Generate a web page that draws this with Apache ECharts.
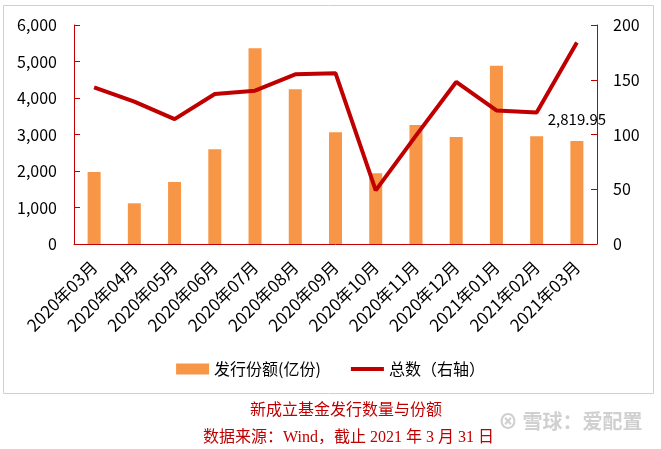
<!DOCTYPE html>
<html>
<head>
<meta charset="utf-8">
<script src="https://cdn.jsdelivr.net/npm/echarts@6/dist/echarts.min.js"></script>
<style>
  html, body { margin: 0; padding: 0; background: #fff; }
  #main { width: 661px; height: 449px; }
</style>
</head>
<body>
<div id="main"></div>
<script>
const months = ['2020年03月', '2020年04月', '2020年05月', '2020年06月', '2020年07月', '2020年08月',
  '2020年09月', '2020年10月', '2020年11月', '2020年12月', '2021年01月', '2021年02月', '2021年03月'];
// 发行份额(亿份)
const shares = [1970, 1115, 1700, 2595, 5360, 4240, 3060, 1935, 3260, 2930, 4885, 2950, 2819.95];
// 总数（右轴）
const counts = [143, 130, 114, 137, 140, 155, 156, 49, 99, 148, 122, 120, 184];
const leftTicks = [0, 6000, 1000];
const rightTicks = [0, 200, 50];

const red = '#C00000';
const font = '"Noto Sans CJK SC", "Noto Sans", sans-serif';
const serif = '"Liberation Serif", "Noto Sans CJK SC", serif';

let chart = echarts.init(document.getElementById('main'));
let option = {
  animation: false,
  textStyle: { fontFamily: font },
  grid: { left: 74, right: 64, top: 25, bottom: 205, containLabel: false },
  legend: {
    top: 356,
    left: 'center',
    itemWidth: 33,
    itemHeight: 11,
    itemGap: 30,
    textStyle: { fontSize: 16, color: '#000', fontFamily: font },
    data: [
      { name: '发行份额(亿份)', icon: 'rect' },
      { name: '总数（右轴）', icon: 'path://M0,0 L33,0 L33,4 L0,4 Z' }
    ]
  },
  xAxis: {
    type: 'category',
    data: months,
    axisLine: { lineStyle: { color: red, width: 1 } },
    axisTick: { show: false },
    axisLabel: { interval: 0, rotate: 45, fontSize: 17, color: '#000', margin: 20 }
  },
  yAxis: [
    {
      type: 'value',
      min: leftTicks[0], max: leftTicks[1], interval: leftTicks[2],
      axisLine: { show: true, lineStyle: { color: red } },
      axisTick: { show: true, inside: true, length: 6, lineStyle: { color: red } },
      splitLine: { show: false },
      axisLabel: {
        fontSize: 16, color: '#000', margin: 17,
        formatter: v => v.toLocaleString('en-US')
      }
    },
    {
      type: 'value',
      min: rightTicks[0], max: rightTicks[1], interval: rightTicks[2],
      axisLine: { show: true, lineStyle: { color: red } },
      axisTick: { show: true, inside: true, length: 6, lineStyle: { color: red } },
      splitLine: { show: false },
      axisLabel: { fontSize: 16, color: '#000', margin: 16 }
    }
  ],
  series: [
    {
      name: '发行份额(亿份)',
      type: 'bar',
      yAxisIndex: 0,
      barWidth: 13,
      itemStyle: { color: '#F79646' },
      data: shares.map((v, i) => i === shares.length - 1 ? {
        value: v,
        label: {
          show: true, position: 'top', distance: 14,
          fontSize: 15, color: '#000',
          formatter: p => p.value.toLocaleString('en-US', { minimumFractionDigits: 2 })
        }
      } : v)
    },
    {
      name: '总数（右轴）',
      type: 'line',
      yAxisIndex: 1,
      symbol: 'none',
      lineStyle: { color: red, width: 4 },
      itemStyle: { color: red },
      data: counts,
      z: 3
    }
  ],
  graphic: [
    {
      type: 'rect', silent: true, z: -1,
      shape: { x: 3.5, y: 5.5, width: 650, height: 388 },
      style: { fill: 'none', stroke: '#d0d0d0', lineWidth: 1 }
    },
    {
      type: 'text', left: 250, top: 403,
      style: { text: '新成立基金发行数量与份额', fill: red, fontSize: 16, fontFamily: serif }
    },
    {
      type: 'text', left: 203, top: 430,
      style: { text: '数据来源：Wind，截止 2021 年 3 月 31 日', fill: red, fontSize: 16, fontFamily: serif }
    },
    {
      type: 'text', left: 498, top: 411,
      style: { text: '⊗ 雪球：爱配置', fill: '#d0d0d0', fontSize: 20, fontWeight: 'bold', fontFamily: font }
    }
  ]
};
chart.setOption(option);
</script>
</body>
</html>
